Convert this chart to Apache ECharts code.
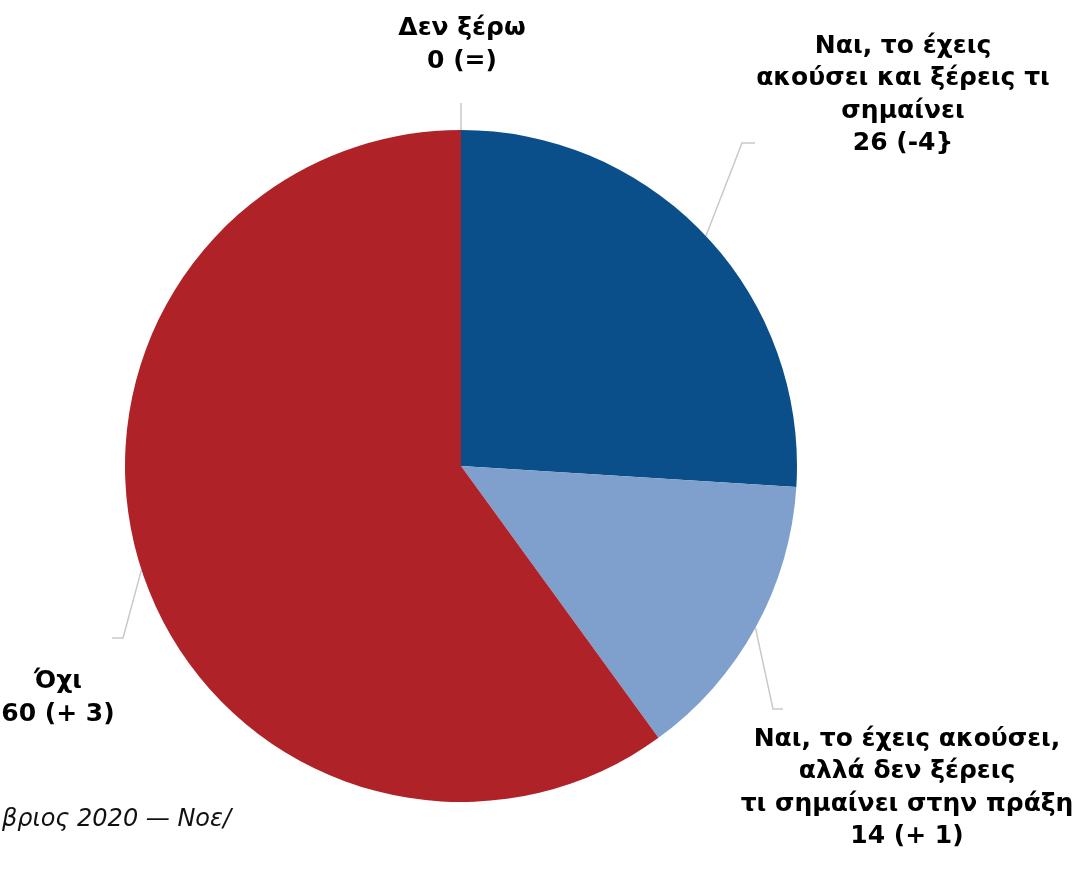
<!DOCTYPE html>
<html>
<head>
<meta charset="utf-8">
<script src="https://cdn.jsdelivr.net/npm/echarts@6/dist/echarts.min.js"></script>
<style>
  html, body { margin: 0; padding: 0; background: #fff; }
  #main { width: 1072px; height: 872px; }
</style>
</head>
<body>
<div id="main"></div>
<script>
// κατηγορίες / τιμές / μεταβολές
var categories = [
    'Ναι, το έχεις\nακούσει και ξέρεις τι\nσημαίνει',
    'Ναι, το έχεις ακούσει,\nαλλά δεν ξέρεις\nτι σημαίνει στην πράξη',
    'Όχι',
    'Δεν ξέρω'
];
var values = [26, 14, 60, 0];
var changes = ['(-4}', '(+ 1)', '(+ 3)', '(=)'];
var colors = ['#0b4f8a', '#7f9fcd', '#af2328', '#bfbfbf'];
var sourceText = 'βριος 2020 — Νοε/';

// θέσεις ετικετών (κέντρο κειμένου) και σημείο γωνίας της γραμμής οδηγού
var labelPos = [
    {cx: 903, cy: 95,  ex: 742, ey: 143, h2: 13},
    {cx: 907, cy: 788, ex: 773, ey: 709, h2: 10},
    {cx: 58,  cy: 698, ex: 123, ey: 638, h2: -11},
    {cx: 462, cy: 45,  ex: 461, ey: 103, h2: 0}
];

var myChart = echarts.init(document.getElementById('main'));

var pieData = [];
for (var i = 0; i < values.length; i++) {
    pieData.push({
        name: categories[i],
        value: values[i],
        itemStyle: {color: colors[i]}
    });
}

option = {
    animation: false,
    graphic: [{
        type: 'text',
        left: 2,
        top: 808,
        style: {
            text: sourceText,
            font: 'oblique 24px "DejaVu Sans", sans-serif',
            fill: '#111'
        }
    }],
    series: [{
        type: 'pie',
        center: [461, 466],
        radius: 336,
        startAngle: 90,
        clockwise: true,
        avoidLabelOverlap: false,
        data: pieData,
        itemStyle: {borderWidth: 0},
        label: {
            show: true,
            position: 'outside',
            formatter: function (p) {
                return p.name + '\n' + p.value + ' ' + changes[p.dataIndex];
            },
            fontFamily: '"DejaVu Sans", sans-serif',
            fontWeight: 'bold',
            fontSize: 25,
            lineHeight: 32.5,
            color: '#000',
            align: 'center'
        },
        labelLine: {
            show: true,
            length: 20,
            length2: 10,
            lineStyle: {color: '#c9c9c9', width: 1.5}
        },
        labelLayout: function (params) {
            var L = labelPos[params.dataIndex];
            var pts = params.labelLinePoints;
            var res = {
                x: L.cx,
                y: L.cy,
                align: 'center',
                verticalAlign: 'middle'
            };
            if (pts && pts.length) {
                res.labelLinePoints = [pts[0], [L.ex, L.ey], [L.ex + L.h2, L.ey]];
            }
            return res;
        },
        emphasis: {disabled: true}
    }]
};

if (option && typeof option === "object") {
    myChart.setOption(option, true);
}
</script>
</body>
</html>
